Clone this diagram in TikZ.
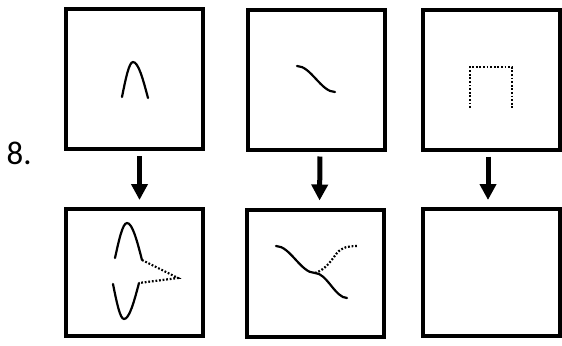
\documentclass[tikz,border=0pt]{standalone}
\usepackage{fontspec}
\setmainfont{Carlito}
\usetikzlibrary{arrows.meta}
\tikzstyle{panel} = [draw=black, line width=4bp, minimum width=137bp, inner sep=0pt]
\tikzstyle{downarrow} = [line width=5bp, -{Triangle[length=16bp,width=16bp]}, shorten <=5bp, shorten >=7bp]
\tikzstyle{stroke} = [line width=2.2bp, line cap=round]
\tikzstyle{dotstroke} = [line width=2.2bp, dash pattern=on 1.8bp off 1.8bp]

\begin{document}
\begin{tikzpicture}[x=1bp, y=-1bp]
\useasboundingbox (0,0) rectangle (562,345);

% top row
\node[panel, minimum height=140bp] (p1) at (134.5,79) {};
\node[panel, minimum height=140bp] (p2) at (316,79.5) {};
\node[panel, minimum height=140bp] (p3) at (491.5,79.5) {};
% bottom row
\node[panel, minimum height=127bp] (p4) at (134.5,272.5) {};
\node[panel, minimum height=127bp] (p5) at (315.5,273) {};
\node[panel, minimum height=127bp] (p6) at (491.5,272.5) {};

\node[font=\fontsize{33}{40}\selectfont, anchor=base west, inner sep=0pt] (num) at (6.5,164) {8.};

\draw[downarrow] ([xshift=5bp]p1.south) -- ([xshift=5bp]p4.north);
\draw[downarrow] ([xshift=4bp]p2.south) -- ([xshift=4bp]p5.north);
\draw[downarrow] ([xshift=-3.5bp]p3.south) -- ([xshift=-3.5bp]p6.north);

% strokes in the panels
\draw[stroke] (122,97) sin (133,62) cos (148,98);
\draw[stroke] (297,66) cos (316,79) sin (335,92);
\draw[dotstroke] (470,108) -- (470,67) -- (512,67) -- (512,108);

\draw[stroke] (115,258) sin (127,223) cos (142,260);
\draw[stroke] (113,284) sin (124,319) cos (139,283);
\draw[dotstroke] (142,260) -- (178,278) -- (139,283);

\draw[stroke] (276,246) cos (295.5,259.5) sin (315,273) cos (331,285.5) sin (347,298);
\draw[dotstroke] (315,273) .. controls (327,269) and (332,259) .. (337,253) .. controls (342,247) and (349,246) .. (357,246);
\end{tikzpicture}
\end{document}
